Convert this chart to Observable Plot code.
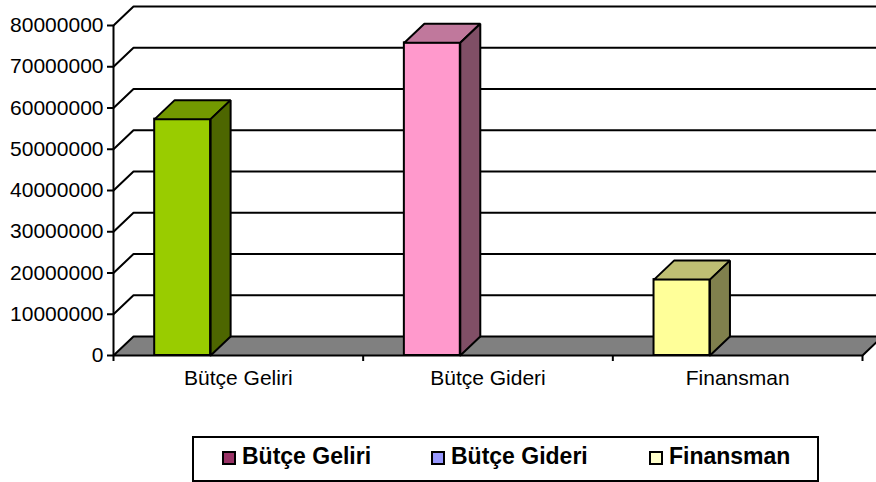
<!DOCTYPE html>
<html>
<head>
<meta charset="utf-8">
<script src="https://cdn.jsdelivr.net/npm/d3@7"></script>
<script src="https://cdn.jsdelivr.net/npm/@observablehq/plot@0.6"></script>
<style>
  html, body { margin: 0; padding: 0; background: #fff; overflow: hidden; }
  body { width: 876px; height: 482px; position: relative; font-family: "Liberation Sans", Arial, sans-serif; }
  #chart svg { display: block; }
  #legend { position: absolute; left: 192px; top: 436px; width: 627px; height: 46px; box-sizing: border-box; border: 2px solid #000; background: #fff; }
  .item { position: absolute; top: 0; height: 42px; }
  .sw { position: absolute; top: 13px; width: 14px; height: 14px; box-sizing: border-box; border: 2px solid #000; }
  .lb { position: absolute; left: 20px; top: 7px; font-weight: bold; font-size: 23px; line-height: 23px; white-space: nowrap; color: #000; }
</style>
</head>
<body>
<div id="chart"></div>
<div id="legend"></div>
<script>
// ---- data ----
const categories = ["Bütçe Geliri", "Bütçe Gideri", "Finansman"];
const values = [57300000, 75800000, 18400000];
const yTicks = [0, 10000000, 20000000, 30000000, 40000000, 50000000, 60000000, 70000000, 80000000];
const legendLabels = ["Bütçe Geliri", "Bütçe Gideri", "Finansman"];

// ---- styles ----
const legendColors = ["#993366", "#9999FF", "#FFFFCC"];
const frontColors = ["#99CC00", "#FF99CC", "#FFFF99"];
const topColors = ["#739900", "#C0789C", "#BFBF73"];
const sideColors = ["#4D6600", "#804F66", "#80804D"];

// ---- layout ----
const W = 876, H = 400, ML = 113, MR = 14, MT = 25, MB = 45;
const n = categories.length;
const yMax = yTicks[yTicks.length - 1];
const DX = 20 * n / (W - ML - MR);      // depth offset in x units (20px)
const DY = 19 * yMax / (H - MT - MB);   // depth offset in y units (19px)
const BAR_OFF = 0.165, BAR_W = 0.224;

const bars = categories.map((c, i) => ({ i, c, v: values[i], x0: i + BAR_OFF, x1: i + BAR_OFF + BAR_W }));

const poly = (pts, z, fill) => pts.map(([x, y]) => ({ x, y, z, fill }));

const floor = poly([[0, 0], [n, 0], [n + DX, DY], [DX, DY], [0, 0]], "floor", "#808080");
const grid = yTicks.filter(v => v > 0).flatMap(v => [
  { x: 0, y: v, z: v }, { x: DX, y: v + DY, z: v }, { x: n + DX, y: v + DY, z: v }
]);
const tops = bars.flatMap(b => poly([[b.x0, b.v], [b.x1, b.v], [b.x1 + DX, b.v + DY], [b.x0 + DX, b.v + DY], [b.x0, b.v]], "t" + b.i, topColors[b.i]));
const sides = bars.flatMap(b => poly([[b.x1, 0], [b.x1 + DX, DY], [b.x1 + DX, b.v + DY], [b.x1, b.v], [b.x1, 0]], "s" + b.i, sideColors[b.i]));

const plot = Plot.plot({
  width: W, height: H,
  marginLeft: ML, marginRight: MR, marginTop: MT, marginBottom: MB,
  x: { domain: [0, n] },
  y: { domain: [0, yMax] },
  color: { type: "identity" },
  style: { fontFamily: "Liberation Sans, Arial, sans-serif", fontSize: "21px", color: "#000", background: "#fff", overflow: "hidden" },
  marks: [
    Plot.line(floor, { x: "x", y: "y", z: "z", fill: "fill", stroke: "#000", strokeWidth: 2, strokeLinejoin: "miter" }),
    Plot.line(grid, { x: "x", y: "y", z: "z", stroke: "#000", strokeWidth: 2 }),
    Plot.rectY(bars, { x1: "x0", x2: "x1", y1: 0, y2: "v", fill: d => frontColors[d.i], stroke: "#000", strokeWidth: 2 }),
    Plot.line(tops, { x: "x", y: "y", z: "z", fill: "fill", stroke: "#000", strokeWidth: 2, strokeLinejoin: "miter" }),
    Plot.line(sides, { x: "x", y: "y", z: "z", fill: "fill", stroke: "#000", strokeWidth: 2, strokeLinejoin: "miter" }),
    Plot.ruleX([0], { y1: 0, y2: yMax, stroke: "#000", strokeWidth: 2 }),
    Plot.axisY({ ticks: yTicks, tickFormat: d => String(d), tickSize: 6, tickPadding: 4, strokeWidth: 2, label: null, fontSize: 21, fill: "#000" }),
    Plot.axisX({ ticks: d3.range(n + 1), tickFormat: () => "", tickSize: 6, strokeWidth: 2, label: null }),
    Plot.axisX({ ticks: d3.range(n).map(i => i + 0.5), tickFormat: d => categories[Math.floor(d)], tickSize: 0, tickPadding: 15, label: null, fontSize: 21, fill: "#000" })
  ]
});
document.getElementById("chart").appendChild(plot);

// ---- legend ----
const itemLeft = [28, 237, 455];
const legend = document.getElementById("legend");
legendLabels.forEach((lab, i) => {
  const it = document.createElement("div");
  it.className = "item";
  it.style.left = itemLeft[i] + "px";
  const sw = document.createElement("div");
  sw.className = "sw";
  sw.style.background = legendColors[i];
  const lb = document.createElement("div");
  lb.className = "lb";
  lb.textContent = lab;
  it.appendChild(sw); it.appendChild(lb);
  legend.appendChild(it);
});
</script>
</body>
</html>
